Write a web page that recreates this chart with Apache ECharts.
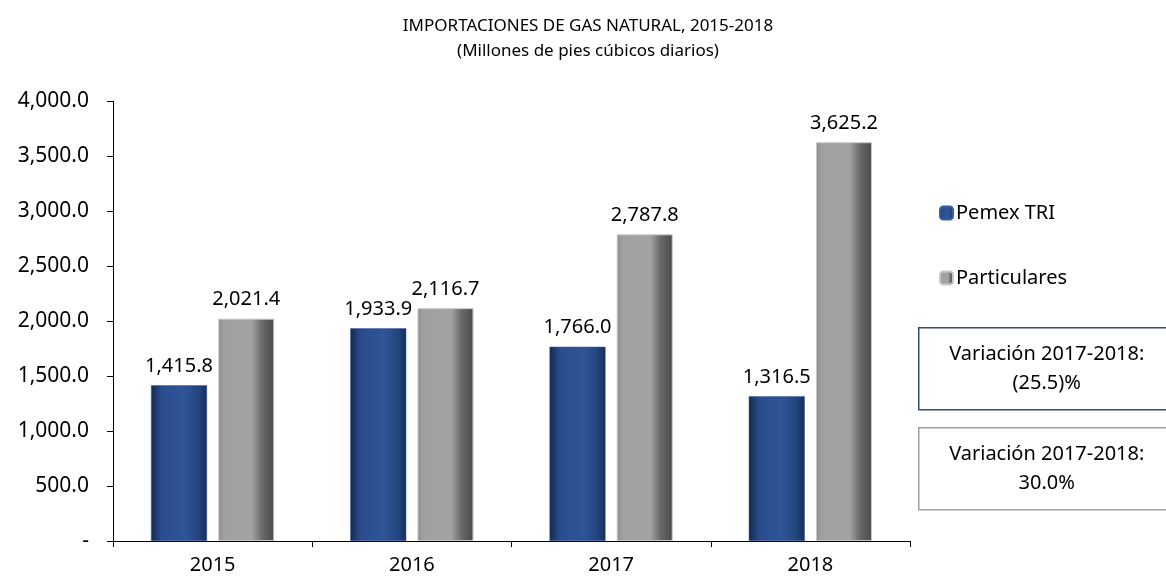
<!DOCTYPE html>
<html>
<head>
<meta charset="utf-8">
<script src="https://cdn.jsdelivr.net/npm/echarts@6/dist/echarts.min.js"></script>
<style>
  html, body { margin: 0; padding: 0; background: #fff; }
  #chart { width: 1166px; height: 578px; }
</style>
</head>
<body>
<div id="chart"></div>
<script>
// datos
var years = ['2015', '2016', '2017', '2018'];
var pemexTRI = [1415.8, 1933.9, 1766.0, 1316.5];
var particulares = [2021.4, 2116.7, 2787.8, 3625.2];
var seriesNames = ['Pemex TRI', 'Particulares'];
var boxTexts = ['Variación 2017-2018:\n(25.5)%', 'Variación 2017-2018:\n30.0%'];

var FONT = '"Noto Sans", "Open Sans", sans-serif';

function fmt(v) {
    if (v === 0) return '-';
    return v.toLocaleString('en-US', { minimumFractionDigits: 1, maximumFractionDigits: 1 });
}

// degradados horizontales de las barras
var blueGrad = new echarts.graphic.LinearGradient(0, 0, 1, 0, [
    { offset: 0, color: '#14284f' },
    { offset: 0.18, color: '#2a4c8c' },
    { offset: 0.6, color: '#2f5597' },
    { offset: 0.85, color: '#24457f' },
    { offset: 1, color: '#172d58' }
]);
var grayGrad = new echarts.graphic.LinearGradient(0, 0, 1, 0, [
    { offset: 0, color: '#8c8c8c' },
    { offset: 0.1, color: '#a0a0a0' },
    { offset: 0.6, color: '#a3a3a3' },
    { offset: 0.78, color: '#6a6a6a' },
    { offset: 1, color: '#4a4a4a' }
]);

var chart = echarts.init(document.getElementById('chart'));

var labelStyle = {
    show: true,
    position: 'top',
    distance: 9,
    fontFamily: FONT,
    fontSize: 20,
    color: '#000',
    formatter: function (p) { return fmt(p.value); }
};

var option = {
    backgroundColor: '#fff',
    animation: false,
    title: {
        text: 'IMPORTACIONES DE GAS NATURAL, 2015-2018\n(Millones de pies cúbicos diarios)',
        left: 583,
        top: 9,
        textAlign: 'center',
        textStyle: {
            fontFamily: FONT,
            fontSize: 17,
            fontWeight: 'normal',
            color: '#000',
            lineHeight: 25
        }
    },
    legend: {
        orient: 'vertical',
        left: 934,
        top: 198,
        itemGap: 45,
        itemWidth: 13,
        itemHeight: 13,
        textStyle: { fontFamily: FONT, fontSize: 20, color: '#000', padding: [0, 0, 0, -2] },
        data: seriesNames
    },
    grid: {
        left: 113,
        right: 256,
        top: 101,
        bottom: 37
    },
    xAxis: {
        type: 'category',
        data: years,
        axisLine: { lineStyle: { color: '#000', width: 1 } },
        axisTick: { show: true, length: 6, lineStyle: { color: '#000' } },
        axisLabel: { fontFamily: FONT, fontSize: 20, color: '#000', margin: 14 }
    },
    yAxis: {
        type: 'value',
        min: 0,
        max: 4000,
        interval: 500,
        splitLine: { show: false },
        axisLine: { show: true, lineStyle: { color: '#000', width: 1 } },
        axisTick: { show: true, length: 6, lineStyle: { color: '#000' } },
        axisLabel: {
            fontFamily: FONT,
            fontSize: 21,
            color: '#000',
            margin: 24,
            formatter: fmt
        }
    },
    series: [{
        name: seriesNames[0],
        type: 'bar',
        data: pemexTRI,
        barWidth: 56,
        barGap: '20%',
        itemStyle: { color: blueGrad, borderColor: '#3a5f9f', borderWidth: 0.5 },
        label: labelStyle
    }, {
        name: seriesNames[1],
        type: 'bar',
        data: particulares,
        barWidth: 56,
        barGap: '20%',
        itemStyle: { color: grayGrad, borderColor: '#c8c8c8', borderWidth: 1 },
        label: labelStyle
    }],
    graphic: [{
        type: 'group',
        left: 918,
        top: 327,
        children: [{
            type: 'rect',
            shape: { x: 0, y: 0, width: 262, height: 82 },
            style: { fill: '#fff', stroke: '#2f4a7a', lineWidth: 1.5 }
        }, {
            type: 'text',
            x: 128,
            y: 41,
            style: {
                text: boxTexts[0],
                align: 'center',
                verticalAlign: 'middle',
                fontFamily: FONT,
                fontSize: 20,
                lineHeight: 29,
                fill: '#000'
            }
        }]
    }, {
        type: 'group',
        left: 918,
        top: 427,
        children: [{
            type: 'rect',
            shape: { x: 0, y: 0, width: 262, height: 82 },
            style: { fill: '#fff', stroke: '#a0a0a0', lineWidth: 1.5 }
        }, {
            type: 'text',
            x: 128,
            y: 41,
            style: {
                text: boxTexts[1],
                align: 'center',
                verticalAlign: 'middle',
                fontFamily: FONT,
                fontSize: 20,
                lineHeight: 29,
                fill: '#000'
            }
        }]
    }]
};

chart.setOption(option);
</script>
</body>
</html>
